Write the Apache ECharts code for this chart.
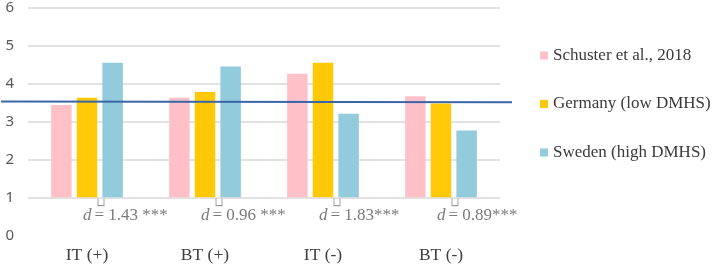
<!DOCTYPE html>
<html><head><meta charset="utf-8">
<script src="https://cdn.jsdelivr.net/npm/echarts@6/dist/echarts.min.js"></script>
<style>html,body{margin:0;padding:0;background:#fff}#c{width:712px;height:267px}</style>
</head><body><div id="c"></div>
<script>
var categories = ['IT (+)', 'BT (+)', 'IT (-)', 'BT (-)'];
var seriesNames = ['Schuster et al., 2018', 'Germany (low DMHS)', 'Sweden (high DMHS)'];
var schuster = [3.42, 3.61, 4.24, 3.65];
var germany = [3.61, 3.76, 4.53, 3.46];
var sweden = [4.53, 4.43, 3.19, 2.75];
var dLabels = ['1.43 ***', '0.96 ***', '1.83***', '0.89***'];
var refLine = [3.51, 3.49];
var yTicks = [0, 1, 2, 3, 4, 5, 6];
var barBase = 1;
var colors = ['#FFC0C8', '#FFC907', '#92CBDC'];
var serif = 'Liberation Serif';

var chart = echarts.init(document.getElementById('c'));
var vals = [schuster, germany, sweden];
var barSeries = vals.map(function (v, i) {
  return {
    name: seriesNames[i], type: 'bar', xAxisIndex: 1, yAxisIndex: 1,
    data: v, barWidth: 20.5, barGap: '25%', itemStyle: { color: colors[i] },
    silent: true
  };
});
chart.setOption({
  animation: false,
  color: colors,
  textStyle: { fontFamily: serif },
  legend: {
    orient: 'vertical', left: 535, top: 42, itemGap: 31.5,
    itemWidth: 8, itemHeight: 8, icon: 'rect',
    data: seriesNames,
    textStyle: { fontFamily: serif, fontSize: 17, color: '#3a3a3a' }
  },
  grid: [
    { left: 28, right: 212, top: 6.7, height: 228.7 },
    { left: 28, right: 212, top: 6.7, height: 190.6 },
    { left: 1, right: 200, top: 6.7, height: 228.7 }
  ],
  xAxis: [
    { type: 'category', gridIndex: 0, data: categories,
      axisLine: { show: false }, axisTick: { show: false },
      axisLabel: { margin: 11, fontFamily: serif, fontSize: 17.5, color: '#404040' } },
    { type: 'category', gridIndex: 1, data: categories, show: false },
    { type: 'value', gridIndex: 2, min: 0, max: 1, show: false }
  ],
  yAxis: [
    { type: 'value', gridIndex: 0, min: yTicks[0], max: yTicks[yTicks.length - 1], interval: 1,
      axisLine: { show: false }, axisTick: { show: false },
      axisLabel: { margin: 14, fontFamily: 'Noto Sans', fontSize: 15, color: '#595959' },
      splitLine: { show: true, showMinLine: false, lineStyle: { color: '#D9D9D9', width: 1.5 } } },
    { type: 'value', gridIndex: 1, min: barBase, max: yTicks[yTicks.length - 1], show: false, splitLine: { show: false } },
    { type: 'value', gridIndex: 2, min: yTicks[0], max: yTicks[yTicks.length - 1], show: false, splitLine: { show: false } }
  ],
  series: barSeries.concat([
    {
      type: 'scatter', xAxisIndex: 0, yAxisIndex: 0, silent: true,
      symbol: 'path://M0,0 L0,10 L10,10 L10,0', symbolSize: [6, 7], symbolOffset: [14, -1],
      itemStyle: { color: 'none', borderColor: '#7f7f7f', borderWidth: 1 },
      data: categories.map(function (c) { return [c, 0.85]; })
    },
    {
      type: 'scatter', xAxisIndex: 0, yAxisIndex: 0, silent: true, symbolSize: 0,
      data: categories.map(function (c, i) { return [c, 0.53]; }),
      label: {
        show: true, position: 'inside', align: 'left', offset: [-4, 0],
        formatter: function (p) { return '{i|d} {n|= ' + dLabels[p.dataIndex] + '}'; },
        rich: {
          i: { fontFamily: serif, fontStyle: 'italic', fontSize: 17, color: '#595959' },
          n: { fontFamily: serif, fontSize: 17, color: '#595959' }
        }
      }
    },
    {
      type: 'line', xAxisIndex: 2, yAxisIndex: 2, silent: true, symbol: 'none',
      lineStyle: { color: '#3A66A8', width: 2 },
      data: [[0, refLine[0]], [1, refLine[1]]]
    }
  ])
});
</script></body></html>
